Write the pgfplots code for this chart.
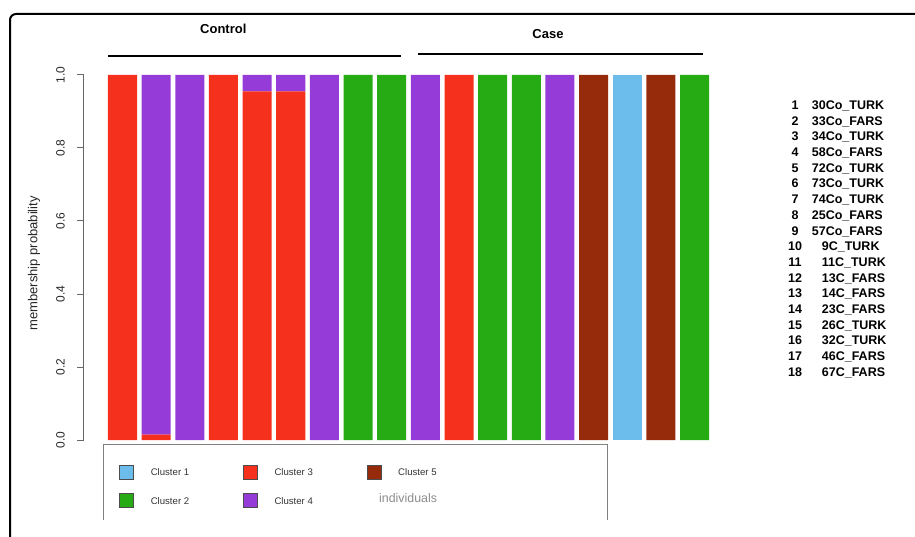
\documentclass[border=0pt]{standalone}
\usepackage{fontspec}
\setmainfont{Liberation Sans}
\usepackage{pgfplots}
\usepackage{pgfplotstable}
\pgfplotsset{compat=1.18}
\definecolor{cA}{HTML}{6CBCEC}
\definecolor{cB}{HTML}{27AB14}
\definecolor{cC}{HTML}{F5301C}
\definecolor{cD}{HTML}{953BD8}
\definecolor{cE}{HTML}{962B0B}
\pgfplotstableread{
idx c1 c2 c3 c4 c5
1 0 0 1 0 0
2 0 0 0.015 0.985 0
3 0 0 0 1 0
4 0 0 1 0 0
5 0 0 0.955 0.045 0
6 0 0 0.955 0.045 0
7 0 0 0 1 0
8 0 1 0 0 0
9 0 1 0 0 0
10 0 0 0 1 0
11 0 0 1 0 0
12 0 1 0 0 0
13 0 1 0 0 0
14 0 0 0 1 0
15 0 0 0 0 1
16 1 0 0 0 0
17 0 0 0 0 1
18 0 1 0 0 0
}\memb
\begin{document}
\begin{tikzpicture}[x=1pt,y=1pt]
\path[use as bounding box] (0,0) rectangle (915,536);
\begin{scope}
\clip (0,0) rectangle (915,536);
\draw[line width=2pt, rounded corners=6pt] (10,-20) -- (10,522) -- (940,522);
\end{scope}
% group headings
\node[font=\fontsize{13}{15}\selectfont\bfseries, inner sep=0pt] at (223.3,506.7) {Control};
\node[font=\fontsize{13}{15}\selectfont\bfseries, inner sep=0pt] at (548,501.7) {Case};
\draw[line width=2pt] (108.3,479.7) -- (401,479.7);
\draw[line width=2pt] (418.3,482) -- (702.7,482);
% y label
\node[rotate=90, font=\fontsize{13}{15}\selectfont, text=black!85, inner sep=0pt] at (34,272.7) {membership probability};
% legend box
\draw[black!50, line width=1pt] (103,16) -- (103,92) -- (607,92) -- (607,16);
\node[anchor=west, inner sep=0pt, font=\fontsize{12.4}{14}\selectfont, text=black!45] at (379,38.3) {individuals};
% sample list
\foreach \n/\lab/\xl [count=\i] in {1/30Co\_TURK/811.7, 2/33Co\_FARS/811.7, 3/34Co\_TURK/811.7, 4/58Co\_FARS/811.7, 5/72Co\_TURK/811.7, 6/73Co\_TURK/811.7, 7/74Co\_TURK/811.7, 8/25Co\_FARS/811.7, 9/57Co\_FARS/811.7, 10/9C\_TURK/821.7, 11/11C\_TURK/821.7, 12/13C\_FARS/821.7, 13/14C\_FARS/821.7, 14/23C\_FARS/821.7, 15/26C\_TURK/821.7, 16/32C\_TURK/821.7, 17/46C\_FARS/821.7, 18/67C\_FARS/821.7}{
  \pgfmathsetmacro{\yy}{536-105-15.69*(\i-1)-4.5}
  \node[anchor=base, inner sep=0pt, font=\fontsize{12.5}{15}\selectfont\bfseries] at (795,\yy) {\n};
  \node[anchor=base west, inner sep=0pt, font=\fontsize{12.5}{15}\selectfont\bfseries] at (\xl,\yy) {\lab};
}
\begin{axis}[
  at={(84pt,96pt)}, anchor=south west,
  scale only axis, width=636pt, height=365pt,
  xmin=-0.144, xmax=18.756, ymin=0, ymax=1,
  clip=false,
  axis x line=none, axis y line*=left,
  axis line style={black!60, line width=1pt},
  ytick={0,0.2,0.4,0.6,0.8,1},
  ytick align=outside, major tick length=7pt,
  ytick style={black!60, line width=1pt},
  /pgf/number format/.cd, fixed, fixed zerofill, precision=1, assume math mode=true,
  /pgfplots/.cd,
  yticklabel style={xshift=-12pt, rotate=90, anchor=south, inner sep=0pt, font=\fontsize{12}{14}\selectfont, text=black!85},
  ybar stacked, bar width=0.862,
  legend image code/.code={\draw[#1, draw=black!70, line width=0.6pt] (0pt,-7pt) rectangle (14pt,7pt);},
  legend columns=3,
  legend entries={Cluster 1, Cluster 3, Cluster 5, Cluster 2, Cluster 4},
  legend style={at={(0.0555,-0.0685)}, anchor=north west, draw=none, fill=none, inner sep=0pt,
    row sep=13.5pt, nodes={inner sep=0pt, text depth=0pt, font=\fontsize{9.6}{11}\selectfont, text=black!80},
    cells={anchor=west},
    /tikz/every odd column/.append style={column sep=16.7pt},
    /tikz/every even column/.append style={column sep=54pt}},
]
\addlegendimage{fill=cA}
\addlegendimage{fill=cC}
\addlegendimage{fill=cE}
\addlegendimage{fill=cB}
\addlegendimage{fill=cD}
\addplot[fill=cA, draw=none] table[x=idx, y=c1] {\memb};
\addplot[fill=cB, draw=none] table[x=idx, y=c2] {\memb};
\addplot[fill=cC, draw=none] table[x=idx, y=c3] {\memb};
\addplot[fill=cD, draw=none] table[x=idx, y=c4] {\memb};
\addplot[fill=cE, draw=none] table[x=idx, y=c5] {\memb};
\end{axis}
\end{tikzpicture}
\end{document}
